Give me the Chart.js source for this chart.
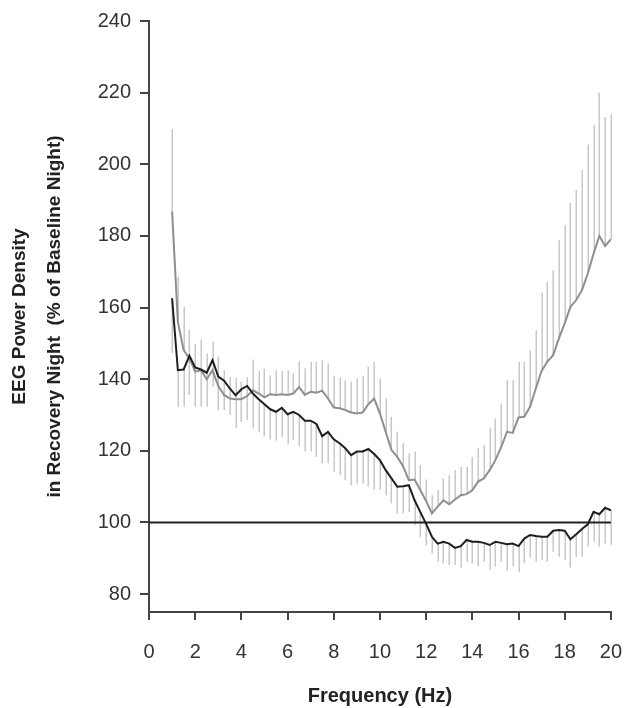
<!DOCTYPE html>
<html>
<head>
<meta charset="utf-8">
<script src="https://cdn.jsdelivr.net/npm/chart.js@4.4.0/dist/chart.umd.min.js"></script>
<style>
  html, body { margin: 0; padding: 0; background: #fff; }
  canvas { display: block; }
</style>
</head>
<body>
<canvas id="eeg" width="642" height="708"></canvas>
<script>
// frequency bins (Hz)
const freqs = [
  1, 1.25, 1.5, 1.75, 2, 2.25, 2.5, 2.75, 3, 3.25, 3.5, 3.75,
  4, 4.25, 4.5, 4.75, 5, 5.25, 5.5, 5.75, 6, 6.25, 6.5, 6.75,
  7, 7.25, 7.5, 7.75, 8, 8.25, 8.5, 8.75, 9, 9.25, 9.5, 9.75,
  10, 10.25, 10.5, 10.75, 11, 11.25, 11.5, 11.75, 12, 12.25, 12.5, 12.75,
  13, 13.25, 13.5, 13.75, 14, 14.25, 14.5, 14.75, 15, 15.25, 15.5, 15.75,
  16, 16.25, 16.5, 16.75, 17, 17.25, 17.5, 17.75, 18, 18.25, 18.5, 18.75,
  19, 19.25, 19.5, 19.75, 20
];

// black curve (mean) and its error, drawn downwards
const blackMean = [
  162.6, 142.5, 142.7, 146.5, 143.3, 142.7, 141.8, 145.3, 140.7, 139.6, 137.4, 135.5,
  137.2, 138.1, 136.0, 134.4, 133.0, 131.6, 130.9, 132.0, 130.2, 130.9, 130.0, 128.4,
  128.4, 127.5, 124.1, 125.3, 123.2, 122.1, 120.7, 118.8, 119.8, 119.8, 120.5, 119.1,
  117.4, 114.6, 112.3, 110.0, 110.1, 110.4, 106.2, 102.9, 99.6, 96.0, 94.1, 94.6,
  94.1, 92.9, 93.4, 95.1, 94.6, 94.6, 94.3, 93.7, 94.6, 94.3, 93.9, 94.1,
  93.4, 95.5, 96.5, 96.2, 96.0, 96.0, 97.7, 97.9, 97.7, 95.3, 96.7, 98.2,
  99.5, 103.0, 102.3, 104.1, 103.4
];
const blackErr = [
  15.3, 10.2, 10.4, 10.9, 11.0, 10.4, 9.5, 7.4, 9.3, 8.2, 7.4, 9.2,
  9.1, 9.5, 9.7, 9.1, 8.9, 8.4, 8.0, 8.1, 8.3, 7.9, 8.7, 8.6,
  8.6, 9.2, 7.6, 8.8, 9.1, 8.9, 8.9, 8.4, 8.9, 8.9, 10.5, 10.0,
  8.3, 7.0, 7.0, 7.5, 7.5, 7.5, 7.0, 7.0, 6.0, 4.6, 5.1, 6.0,
  6.0, 4.8, 6.0, 6.1, 6.0, 6.8, 5.3, 7.0, 7.0, 5.3, 7.4, 6.3,
  7.2, 6.9, 6.3, 7.2, 6.5, 7.0, 5.9, 7.5, 8.2, 7.9, 6.3, 7.8,
  6.3, 8.4, 9.1, 10.0, 9.6
];

// gray curve (mean) and its error, drawn upwards
const grayMean = [
  186.8, 156.0, 148.1, 145.8, 142.1, 142.5, 140.0, 142.5, 138.1, 135.6, 134.6, 134.4,
  134.4, 135.3, 136.9, 136.0, 134.9, 135.8, 135.6, 135.8, 135.6, 136.0, 137.8, 135.6,
  136.5, 136.2, 136.8, 134.6, 132.1, 131.9, 131.4, 130.7, 130.4, 130.7, 133.0, 134.6,
  130.4, 125.3, 120.2, 118.3, 115.7, 111.8, 112.0, 109.0, 106.0, 102.5, 104.4, 106.2,
  105.1, 106.4, 107.6, 107.9, 109.0, 111.4, 112.3, 114.6, 117.4, 121.0, 125.3, 125.0,
  129.3, 129.5, 132.3, 137.4, 142.3, 144.9, 146.7, 151.4, 155.6, 160.2, 162.1, 164.9,
  169.5, 175.0, 180.0, 177.2, 179.0
];
const grayErr = [
  23.0, 12.6, 12.1, 8.1, 7.7, 8.6, 7.2, 8.0, 8.2, 6.9, 6.0, 6.0,
  4.9, 5.3, 8.6, 6.3, 8.1, 5.3, 6.9, 6.5, 6.9, 5.6, 7.2, 7.4,
  8.4, 8.7, 8.5, 9.8, 8.8, 8.6, 8.2, 8.6, 9.8, 10.1, 10.5, 10.3,
  9.8, 9.3, 9.3, 7.0, 6.4, 7.5, 7.8, 7.0, 6.0, 5.1, 4.6, 6.1,
  8.1, 8.2, 7.9, 7.6, 9.3, 9.3, 9.3, 11.7, 11.6, 12.2, 14.4, 14.7,
  15.6, 15.4, 15.8, 16.3, 21.9, 22.3, 23.8, 27.4, 27.4, 29.0, 30.7, 33.5,
  36.0, 36.0, 40.0, 36.0, 35.0
];

const baseline = [100, 100];
const baselineX = [0, 20];
const xTicks = [0, 2, 4, 6, 8, 10, 12, 14, 16, 18, 20];
const yTicks = [80, 100, 120, 140, 160, 180, 200, 220, 240];

const family = "'Liberation Sans', Arial, Helvetica, sans-serif";

// one-sided SEM bars, drawn under the curves
const errorBars = {
  id: 'errorBars',
  beforeDatasetsDraw(chart) {
    const { ctx, scales: { x, y } } = chart;
    ctx.save();
    ctx.strokeStyle = '#c8c8c8';
    ctx.lineWidth = 1.5;
    ctx.beginPath();
    freqs.forEach((f, i) => {
      const px = Math.round(x.getPixelForValue(f)) + 0.25;
      ctx.moveTo(px, y.getPixelForValue(grayMean[i]));
      ctx.lineTo(px, y.getPixelForValue(grayMean[i] + grayErr[i]));
      ctx.moveTo(px, y.getPixelForValue(blackMean[i]));
      ctx.lineTo(px, y.getPixelForValue(blackMean[i] - blackErr[i]));
    });
    ctx.stroke();
    ctx.restore();
  }
};

new Chart(document.getElementById('eeg'), {
  type: 'line',
  data: {
    datasets: [
      {
        label: 'black',
        data: freqs.map((f, i) => ({ x: f, y: blackMean[i] })),
        borderColor: '#1e1e1e',
        borderWidth: 2,
        order: 1
      },
      {
        label: 'gray',
        data: freqs.map((f, i) => ({ x: f, y: grayMean[i] })),
        borderColor: '#8f8f8f',
        borderWidth: 2,
        order: 2
      },
      {
        label: 'baseline',
        data: baselineX.map((f, i) => ({ x: f, y: baseline[i] })),
        borderColor: '#222',
        borderWidth: 2,
        order: 3
      }
    ]
  },
  options: {
    responsive: false,
    animation: false,
    devicePixelRatio: 1,
    layout: { padding: { top: 21, right: 13, left: 0, bottom: 0 } },
    elements: { point: { radius: 0 }, line: { tension: 0 } },
    plugins: { legend: { display: false }, tooltip: { enabled: false } },
    scales: {
      x: {
        type: 'linear',
        min: 0,
        max: 20,
        afterBuildTicks: s => { s.ticks = xTicks.map(v => ({ value: v })); },
        afterFit: s => { s.height = 96; },
        grid: { drawOnChartArea: false, tickLength: 8, color: '#444', lineWidth: 2 },
        border: { color: '#444', width: 2 },
        ticks: { color: '#333', padding: 20, maxRotation: 0, font: { family, size: 20 } },
        title: {
          display: true,
          text: 'Frequency (Hz)',
          color: '#222',
          padding: 0,
          font: { family, size: 20, weight: 'bold' }
        }
      },
      y: {
        type: 'linear',
        min: 75,
        max: 240,
        afterBuildTicks: s => { s.ticks = yTicks.map(v => ({ value: v })); },
        afterFit: s => { s.width = 149; },
        grid: { drawOnChartArea: false, tickLength: 9, color: '#444', lineWidth: 2 },
        border: { color: '#444', width: 2 },
        ticks: { color: '#333', padding: 9, font: { family, size: 20 } },
        title: {
          display: true,
          text: ['EEG Power Density', 'in Recovery Night  (% of Baseline Night)'],
          color: '#222',
          padding: { top: 3, bottom: 0 },
          font: { family, size: 19, weight: 'bold', lineHeight: 1.8 }
        }
      }
    }
  },
  plugins: [errorBars]
});
</script>
</body>
</html>
